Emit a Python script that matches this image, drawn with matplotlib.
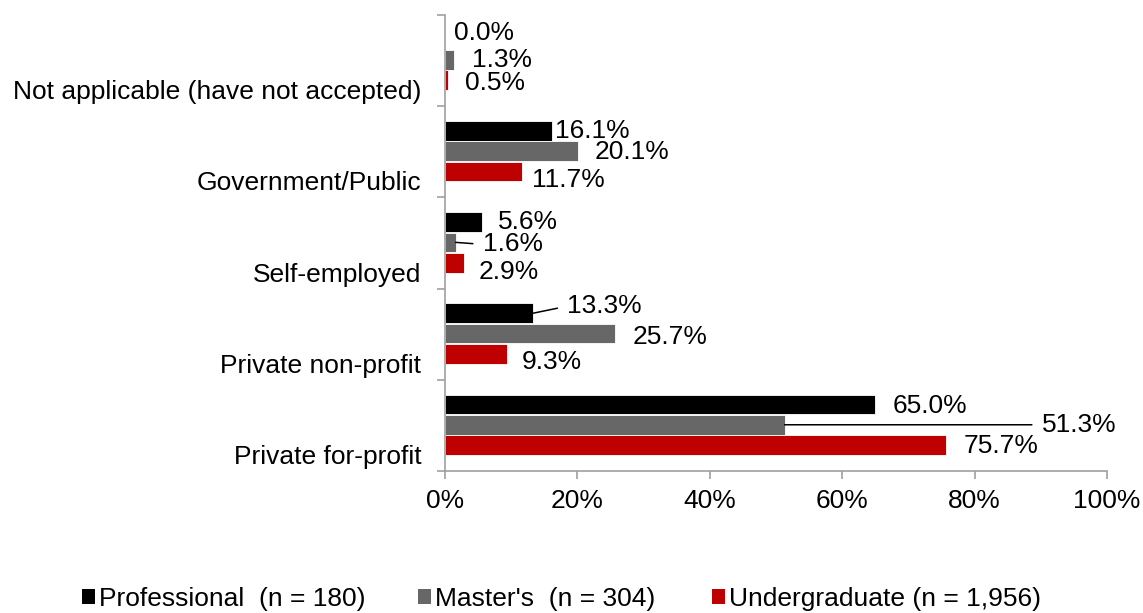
import matplotlib
matplotlib.use("Agg")
import matplotlib.pyplot as plt
from matplotlib.patches import Patch

plt.rcParams['font.family'] = ['Liberation Sans', 'DejaVu Sans']

# data, top to bottom as in the chart
categories = ["Not applicable (have not accepted)", "Government/Public",
              "Self-employed", "Private non-profit", "Private for-profit"]
professional = [0.0, 16.1, 5.6, 13.3, 65.0]
masters = [1.3, 20.1, 1.6, 25.7, 51.3]
undergrad = [0.5, 11.7, 2.9, 9.3, 75.7]
series_names = ["Professional  (n = 180)", "Master's  (n = 304)",
                "Undergraduate (n = 1,956)"]
xticks = [0, 20, 40, 60, 80, 100]

colors = ["#000000", "#676767", "#BF0000"]
bar_off = [0.27, 0.493, 0.716]
bar_h = 0.215
FS = 19

# label placement (pixels): dx from bar end, dy downward from bar centre, leader line
prof_lab = [(9, -7, 0), (3, 0, 0), (16, 0, 0), (34, -7, 1), (17, 2, 0)]
mast_lab = [(18, 0, 0), (17, 1, 0), (27, 2, 1), (17, 3, 0), (257, 0, 1)]
under_lab = [(17, 3, 0), (10, 9, 0), (14, 9, 0), (15, 8, 0), (17, 1, 0)]

fig = plt.figure(figsize=(11.43, 6.13), dpi=100)
ax = fig.add_axes([445 / 1143, 1 - 471 / 613, 662 / 1143, 456 / 613])

all_series = [professional, masters, undergrad]
all_labs = [prof_lab, mast_lab, under_lab]
for s, (vals, labs) in enumerate(zip(all_series, all_labs)):
    ys = [i + bar_off[s] for i in range(len(categories))]
    ax.barh(ys, vals, height=bar_h, color=colors[s], edgecolor="white",
            linewidth=0.6, label=series_names[s])
    for v, y, (dx, dy, lead) in zip(vals, ys, labs):
        kw = {}
        if lead:
            kw["arrowprops"] = dict(arrowstyle="-", color="black", lw=1.1,
                                    shrinkA=5, shrinkB=0, relpos=(0, 0.5))
        ax.annotate(f"{v:.1f}%", xy=(v, y), xytext=(dx, -dy),
                    textcoords="offset pixels", ha="left", va="center",
                    fontsize=FS, annotation_clip=False, **kw)

ax.set_xlim(0, 100)
ax.set_ylim(len(categories), 0)
ax.set_xticks(xticks)
ax.set_xticklabels([f"{t}%" for t in xticks], fontsize=FS)
ax.set_yticks([i + 0.82 for i in range(len(categories))])
ax.set_yticklabels(categories, fontsize=FS)
ax.set_yticks(range(len(categories) + 1), minor=True)
ax.tick_params(axis="y", which="major", length=0, pad=17)
ax.tick_params(axis="y", which="minor", length=6, color="#A0A0A0", width=1.2)
ax.tick_params(axis="x", length=6, color="#A0A0A0", width=1.2, pad=7)
for sp in ["top", "right"]:
    ax.spines[sp].set_visible(False)
for sp in ["left", "bottom"]:
    ax.spines[sp].set_color("#A0A0A0")
    ax.spines[sp].set_linewidth(1.2)

# legend entries placed separately like the original
leg_x = [82, 418, 712]
for s in range(3):
    h = Patch(facecolor=colors[s], edgecolor="none")
    fig.legend([h], [series_names[s]], loc="center left",
               bbox_to_anchor=(leg_x[s] / 1143, 1 - 599 / 613), frameon=False,
               fontsize=FS, handlelength=0.5, handleheight=0.5,
               handletextpad=0.15, borderpad=0, borderaxespad=0)

fig.savefig("out.png", dpi=100)
